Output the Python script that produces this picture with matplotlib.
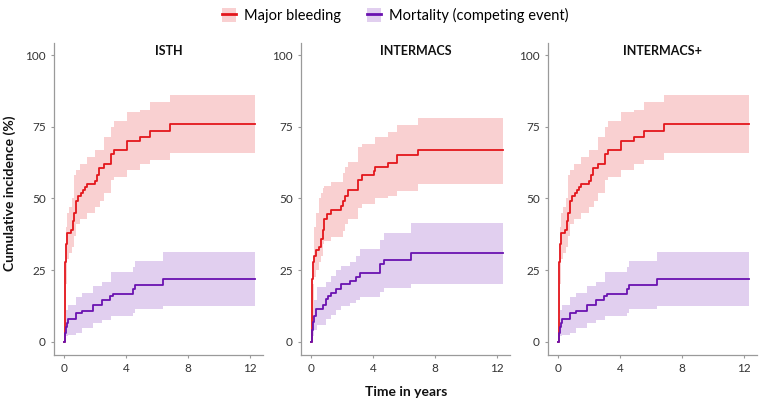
import matplotlib
matplotlib.use("Agg")
import matplotlib.pyplot as plt
from matplotlib.patches import Patch
from matplotlib.lines import Line2D

plt.rcParams['font.family'] = ['Lato', 'DejaVu Sans']

# ---- data ----
panels = ["ISTH", "INTERMACS", "INTERMACS+"]

isth_bleed_t = [0, 0.03, 0.06, 0.1, 0.17, 0.42, 0.6, 0.65, 0.77, 0.92, 1.07, 1.2, 1.35, 1.5, 2.0, 2.1, 2.28, 2.58, 3.03, 3.25, 4.05, 4.9, 5.55, 6.85, 12.3]
isth_bleed_y = [0, 14, 28, 34, 38, 39, 42, 45, 49, 51, 52, 53, 54, 55, 56, 58, 60.5, 62, 65.5, 67, 70, 71.5, 73.5, 76, 76]
isth_bleed_bt = [0, 0.05, 0.1, 0.2, 0.35, 0.5, 0.65, 0.8, 1.0, 1.5, 2.0, 2.3, 2.6, 3.0, 3.25, 4.05, 4.9, 5.55, 6.85, 12.3]
isth_bleed_lo = [0, 10, 20, 29, 31, 33, 37, 41, 43, 45, 47, 49, 52, 56.5, 57.5, 60, 62, 63.5, 66, 66]
isth_bleed_hi = [0, 25, 40, 45, 47, 50, 58, 60, 62, 64.5, 67, 67, 71.5, 75, 77, 80, 81, 83.5, 86, 86]

isth_mort_t = [0, 0.05, 0.1, 0.2, 0.28, 0.77, 1.14, 1.85, 2.43, 2.97, 3.15, 4.43, 4.6, 6.4, 12.3]
isth_mort_y = [0, 3, 5, 6.5, 7.8, 10, 10.8, 13, 14.5, 16, 16.8, 18.5, 19.8, 22, 22]
isth_mort_bt = [0, 0.05, 0.15, 0.28, 0.77, 1.14, 1.85, 2.43, 3.0, 4.43, 4.6, 6.4, 12.3]
isth_mort_lo = [0, 1, 2, 2.5, 3, 4.7, 6.4, 7.5, 9, 10, 11.6, 12.6, 12.6]
isth_mort_hi = [0, 8, 11, 13, 15.7, 17, 19.5, 21, 24.3, 26, 28.3, 31.4, 31.4]

im_bleed_t = [0, 0.03, 0.07, 0.12, 0.2, 0.3, 0.52, 0.63, 0.74, 0.85, 1.06, 1.28, 1.93, 2.04, 2.2, 2.36, 3.0, 3.3, 4.05, 4.15, 4.96, 5.55, 6.9, 12.4]
im_bleed_y = [0, 12, 22, 28, 30, 32, 33, 36, 39, 43, 44.5, 46, 47.5, 49, 51, 53, 56.5, 58, 59.5, 61, 62.5, 65, 67, 67]
im_bleed_bt = [0, 0.05, 0.2, 0.3, 0.52, 0.63, 0.74, 0.85, 1.28, 2.04, 2.2, 2.36, 3.0, 3.3, 4.15, 4.96, 5.55, 6.9, 12.4]
im_bleed_lo = [0, 8, 22.7, 25, 28, 30, 34, 35, 36.6, 38.5, 41, 43, 46.5, 48, 50, 51, 52.6, 55, 55]
im_bleed_hi = [0, 20, 40, 45, 50, 52, 53.5, 54.5, 55.8, 59, 61, 62.8, 68, 69, 71.3, 73.3, 75.5, 78, 78]

im_mort_t = [0, 0.05, 0.1, 0.2, 0.35, 0.8, 0.95, 1.1, 1.28, 1.6, 1.93, 2.53, 2.9, 3.16, 4.42, 4.7, 6.48, 12.4]
im_mort_y = [0, 4, 7, 9, 11.6, 13, 14.8, 16, 16.9, 18.5, 20, 21.3, 22.5, 24.1, 27, 28.5, 30.8, 30.8]
im_mort_bt = [0, 0.05, 0.2, 0.4, 0.95, 1.28, 1.6, 1.93, 2.53, 2.9, 3.16, 4.42, 4.7, 6.48, 12.4]
im_mort_lo = [0, 2, 4, 6, 8.1, 9.5, 11, 12.6, 13.5, 14.5, 15.7, 17.4, 18.6, 20.3, 20.3]
im_mort_hi = [0, 9, 14.5, 19.2, 21, 23, 25, 26.5, 28, 30, 32.5, 35.5, 38, 41.3, 41.3]

# INTERMACS+ curves are the same as ISTH in the reference
bleed = [(isth_bleed_t, isth_bleed_y, isth_bleed_bt, isth_bleed_lo, isth_bleed_hi),
         (im_bleed_t, im_bleed_y, im_bleed_bt, im_bleed_lo, im_bleed_hi),
         (isth_bleed_t, isth_bleed_y, isth_bleed_bt, isth_bleed_lo, isth_bleed_hi)]
mort = [(isth_mort_t, isth_mort_y, isth_mort_bt, isth_mort_lo, isth_mort_hi),
        (im_mort_t, im_mort_y, im_mort_bt, im_mort_lo, im_mort_hi),
        (isth_mort_t, isth_mort_y, isth_mort_bt, isth_mort_lo, isth_mort_hi)]

RED = "#e3161c"
PURPLE = "#6a12b0"
SPINE = "#9a9a9a"

W, H = 762, 401
fig = plt.figure(figsize=(W / 100, H / 100), dpi=100)

lefts = [54, 301, 548]
ax_w = 209
ax_top, ax_bot = 43, 355

for i, name in enumerate(panels):
    ax = fig.add_axes([lefts[i] / W, (H - ax_bot) / H, ax_w / W, (ax_bot - ax_top) / H])
    for (t, y, bt, lo, hi), col in [(bleed[i], RED), (mort[i], PURPLE)]:
        ax.fill_between(bt, lo, hi, step="post", color=col, alpha=0.2, linewidth=0)
        ax.step(t, y, where="post", color=col, linewidth=1.3)
    ax.set_xlim(-0.65, 12.84)
    ax.set_ylim(-4.6, 104.2)
    ax.set_xticks([0, 4, 8, 12])
    ax.set_yticks([0, 25, 50, 75, 100])
    for s in ["top", "right"]:
        ax.spines[s].set_visible(False)
    for s in ["left", "bottom"]:
        ax.spines[s].set_color(SPINE)
        ax.spines[s].set_linewidth(0.9)
    ax.tick_params(colors=SPINE, labelcolor="#333333", labelsize=8.5, length=2.5, width=0.8)
    ax.text(0.55, 0.975, name, transform=ax.transAxes, ha="center", va="center",
            fontsize=9, fontweight="bold", color="#111111")

fig.text(10 / W, 1 - 193 / H, "Cumulative incidence (%)", rotation=90, ha="center", va="center",
         fontsize=10, fontweight="bold", color="#111111")
fig.text(406 / W, 1 - 392 / H, "Time in years", ha="center", va="center",
         fontsize=10, fontweight="bold", color="#111111")

handles = [(Patch(facecolor=RED, alpha=0.2, edgecolor="none"), Line2D([], [], color=RED, lw=2)),
           (Patch(facecolor=PURPLE, alpha=0.2, edgecolor="none"), Line2D([], [], color=PURPLE, lw=2))]
fig.legend(handles, ["Major bleeding", "Mortality (competing event)"], loc="center",
           bbox_to_anchor=(395 / W, 1 - 15 / H), ncol=2, frameon=False, fontsize=10.5,
           handlelength=1.0, handleheight=1.1, handletextpad=0.5, columnspacing=1.8)

fig.savefig("out.png", dpi=100)
